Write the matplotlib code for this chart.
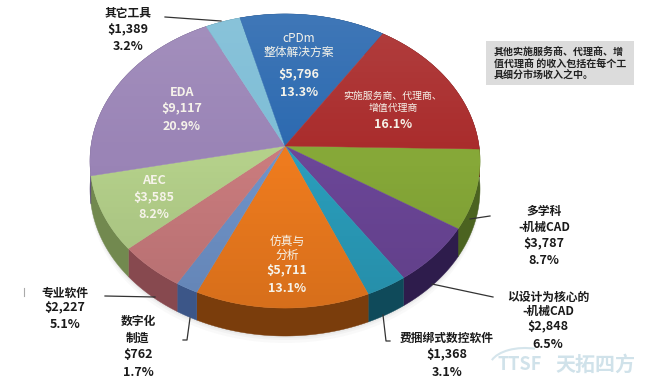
import numpy as np
import matplotlib
matplotlib.use('Agg')
import matplotlib.pyplot as plt
from matplotlib.patches import Polygon, Rectangle, Arc

plt.rcParams['font.family'] = ['Noto Sans CJK SC', 'DejaVu Sans']

# slices, clockwise from the red/green border
names = ['多学科-机械CAD', '以设计为核心的-机械CAD', '费捆绑式数控软件', '仿真与分析', '数字化制造',
         '专业软件', 'AEC', 'EDA', '其它工具', 'cPDm整体解决方案', '实施服务商、代理商、增值代理商']
shares = [8.7, 6.5, 3.1, 13.1, 1.7, 5.1, 8.2, 20.9, 3.2, 13.3, 16.1]
top_colors = ['#86a838', '#6b4697', '#2a9dbb', '#ee7b1e', '#6f93c9', '#c97b7d',
              '#b4d08a', '#9a84b6', '#7dbdd6', '#2b69b0', '#a92b2b']
side_colors = ['#4b6320', '#2e1c4c', '#0f4a5a', '#7a3d0c', '#3c5688', '#87494f',
               '#72894f', '#5f5078', '#4a7d92', '#1a3f6c', '#651818']

# label text
white_labels = [
    (182, [92, 109, 126], ['EDA', '$9,117', '20.9%'], 8.5),
    (299, [38, 52, 75, 92], ['cPDm', '整体解决方案', '$5,796', '13.3%'], 8.5),
    (393, [96, 108, 125], ['实施服务商、代理商、', '增值代理商', '16.1%'], 7.1),
    (154, [181, 198, 215], ['AEC', '$3,585', '8.2%'], 8.5),
    (287, [241, 255, 271, 288], ['仿真与', '分析', '$5,711', '13.1%'], 8.5),
]
black_labels = [
    (128, [14, 30, 47], ['其它工具', '$1,389', '3.2%']),
    (65, [293, 308, 325], ['专业软件', '$2,227', '5.1%']),
    (138, [321, 338, 355, 372], ['数字化', '制造', '$762', '1.7%']),
    (544, [212, 227, 244, 261], ['多学科', '-机械CAD', '$3,787', '8.7%']),
    (548, [297, 311, 327, 344], ['以设计为核心的', '-机械CAD', '$2,848', '6.5%']),
    (447, [338, 355, 372], ['费捆绑式数控软件', '$1,368', '3.1%']),
]
note_lines = ['其他实施服务商、代理商、增', '值代理商 的收入包括在每个工', '具细分市场收入之中。']
leaders = [
    ([165, 221], [17, 21]),
    ([105, 155], [296, 297]),
    ([190, 187, 183], [318, 340, 340]),
    ([470, 490], [219, 216]),
    ([432, 493], [284, 297]),
    ([383, 386, 390], [315, 341, 341]),
]

# pie geometry in pixels, tilted disc seen in perspective
cx, cy = 285, 146
a, b, k = 194, 145.5, 0.102
depth = 28
start = np.radians(-1.2)


def project(theta):
    u, v = np.cos(theta), np.sin(theta)
    w = 1 + k * v
    return cx + a * u / w, cy - b * v / w


fig = plt.figure(figsize=(6.5, 3.83), dpi=100)
ax = fig.add_axes([0, 0, 1, 1])

edges = start - np.cumsum([0] + shares) / sum(shares) * 2 * np.pi
rims = []
for i in range(len(shares)):
    t = np.linspace(edges[i], edges[i + 1], 80)
    rims.append(project(t))

outer = project(np.linspace(0, 2 * np.pi, 400))

# faint shadow under the disc
for off, al in [(depth + 7, 0.03), (depth + 4, 0.04), (depth + 2, 0.05)]:
    ax.add_patch(Polygon(np.c_[outer[0], outer[1] + off], fc='#555555', ec='none', alpha=al, zorder=1))

# side wall first, the top faces then cover the back of it
for rim, col in zip(rims, side_colors):
    xs = np.r_[rim[0], rim[0][::-1]]
    ys = np.r_[rim[1], rim[1][::-1] + depth]
    ax.add_patch(Polygon(np.c_[xs, ys], fc=col, ec=col, lw=0.3, zorder=2))

for rim, col in zip(rims, top_colors):
    xs = np.r_[cx, rim[0]]
    ys = np.r_[cy, rim[1]]
    ax.add_patch(Polygon(np.c_[xs, ys], fc=col, ec=col, lw=0.3, zorder=3))

# light from above over the whole top face
clip = Polygon(np.c_[outer], transform=ax.transData, fc='none', ec='none')
ax.add_patch(clip)
g = np.linspace(0, 1, 200)
shade = np.zeros((200, 1, 4))
shade[:, 0, :3] = (g < 0.5)[:, None]
shade[:, 0, 3] = np.abs(g - 0.5) * 0.2
im = ax.imshow(shade, extent=[80, 490, 310, 10], aspect='auto', zorder=4)
im.set_clip_path(clip)

for x, ys, lines, size in white_labels:
    for y, s in zip(ys, lines):
        latin = s[0] in '$0123456789AE'
        ax.text(x, y, s, color='#f6f3ea', fontsize=9 if latin else size,
                fontweight='bold' if latin else 'normal', ha='center', va='center', zorder=6)
for x, ys, lines in black_labels:
    for y, s in zip(ys, lines):
        latin = s[0] in '$0123456789'
        ax.text(x, y, s, color='#1a1a1a', fontsize=9 if latin else 8.5,
                fontweight='bold', ha='center', va='center', zorder=6)

for xs, ys in leaders:
    ax.plot(xs, ys, color='#333333', lw=0.9, zorder=5)
ax.plot([24, 24], [288, 296], color='#aaaaaa', lw=0.8, zorder=5)

ax.add_patch(Rectangle((486, 41), 148, 44, fc='#dcdcdc', ec='none', zorder=1))
for y, s in zip([52, 64, 76], note_lines):
    ax.text(494, y, s, color='#222222', fontsize=7.2, fontweight='bold', ha='left', va='center', zorder=6)

# watermark
ax.add_patch(Arc((525, 366), 70, 36, theta1=190, theta2=300, color='#d5e5ec', lw=1.5, zorder=5))
ax.text(497, 365, 'TTSF', color='#d0e2ea', fontsize=13, fontweight='bold', ha='left', va='center', zorder=6)
ax.text(555, 364, '天拓四方', color='#d0e2ea', fontsize=14.4, fontweight='bold', ha='left', va='center', zorder=6)

ax.set_xlim(0, 650)
ax.set_ylim(383, 0)
ax.axis('off')
fig.savefig('out.png', dpi=100)
